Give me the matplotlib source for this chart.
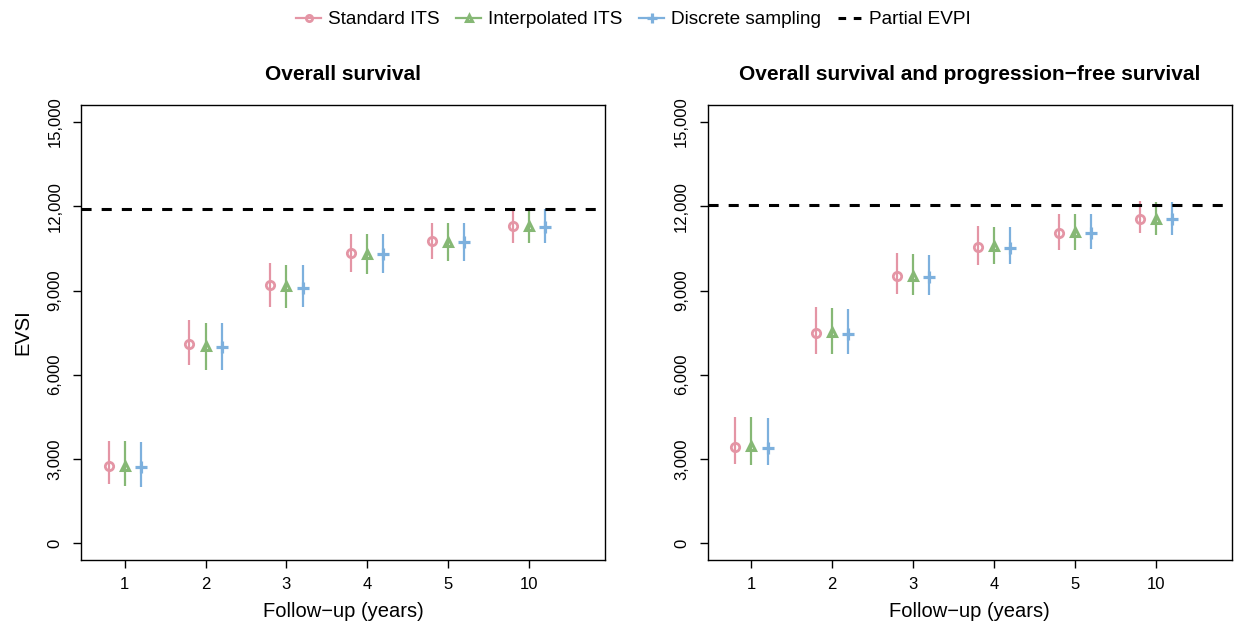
import numpy as np
import matplotlib
matplotlib.use("Agg")
from matplotlib import pyplot as plt
from matplotlib.lines import Line2D

plt.rcParams['font.family'] = ['Liberation Sans', 'DejaVu Sans']

# follow-up categories
years = ['1', '2', '3', '4', '5', '10']

# overall survival panel
std_os = [2750, 7090, 9205, 10330, 10760, 11305]
std_os_lo = [2090, 6360, 8430, 9660, 10110, 10690]
std_os_hi = [3640, 7940, 9990, 11020, 11420, 11950]
int_os = [2740, 7030, 9145, 10310, 10735, 11295]
int_os_lo = [2040, 6180, 8370, 9590, 10050, 10690]
int_os_hi = [3630, 7850, 9900, 11020, 11420, 11880]
dis_os = [2695, 6975, 9100, 10285, 10725, 11270]
dis_os_lo = [2000, 6160, 8410, 9620, 10050, 10680]
dis_os_hi = [3620, 7830, 9900, 11010, 11420, 11900]
evpi_os = 11890

# overall + progression-free survival panel
std_pfs = [3415, 7475, 9505, 10540, 11050, 11560]
std_pfs_lo = [2820, 6750, 8880, 9900, 10445, 11050]
std_pfs_hi = [4495, 8400, 10325, 11285, 11730, 12200]
int_pfs = [3450, 7510, 9530, 10575, 11085, 11560]
int_pfs_lo = [2795, 6750, 8845, 9960, 10430, 10990]
int_pfs_hi = [4480, 8365, 10290, 11265, 11730, 12165]
dis_pfs = [3390, 7465, 9485, 10530, 11040, 11535]
dis_pfs_lo = [2770, 6740, 8855, 9935, 10465, 10990]
dis_pfs_hi = [4460, 8355, 10270, 11265, 11730, 12140]
evpi_pfs = 12060

yticks = [0, 3000, 6000, 9000, 12000, 15000]
cols = ['#E495A5', '#86B875', '#7DB0DD']
names = ['Standard ITS', 'Interpolated ITS', 'Discrete sampling']
mk = [dict(marker='o', ms=6, mew=2, mfc='none'),
      dict(marker='^', ms=6, mew=2.2, mfc='none'),
      dict(marker='+', ms=9, mew=2.3)]
offs = [-0.2, 0, 0.2]


def panel(ax, title, series, evpi, ylab):
    x = np.arange(1, len(years) + 1)
    for k, (m, lo, hi) in enumerate(series):
        xx = x + offs[k]
        ax.vlines(xx, lo, hi, color=cols[k], lw=1.6)
        ax.plot(xx, m, ls='none', color=cols[k], **mk[k])
    ax.axhline(evpi, color='black', lw=2.2, ls=(0, (3.3, 3.3)))
    ax.set_xlim(0.46, 6.94)
    ax.set_ylim(-600, 15600)
    ax.set_xticks(x)
    ax.set_xticklabels(years)
    ax.set_yticks(yticks)
    ax.set_yticklabels([f'{v:,}' for v in yticks], rotation=90, va='center')
    ax.tick_params(axis='both', length=5.8, width=1, labelsize=12)
    ax.tick_params(axis='y', pad=7.5)
    ax.tick_params(axis='x', pad=6.5)
    for s in ax.spines.values():
        s.set_linewidth(1)
    ax.set_title(title, fontsize=15, fontweight='bold', pad=18)
    ax.set_xlabel('Follow\u2212up (years)', fontsize=14.5, labelpad=7)
    if ylab:
        ax.set_ylabel('EVSI', fontsize=14.5, labelpad=11)


fig = plt.figure(figsize=(12.35, 6.27), dpi=100)
ax1 = fig.add_axes([0.0656, 0.1069, 0.4243, 0.7252])
ax2 = fig.add_axes([0.5730, 0.1069, 0.4245, 0.7252])

panel(ax1, 'Overall survival',
      [(std_os, std_os_lo, std_os_hi), (int_os, int_os_lo, int_os_hi),
       (dis_os, dis_os_lo, dis_os_hi)], evpi_os, True)
panel(ax2, 'Overall survival and progression\u2212free survival',
      [(std_pfs, std_pfs_lo, std_pfs_hi), (int_pfs, int_pfs_lo, int_pfs_hi),
       (dis_pfs, dis_pfs_lo, dis_pfs_hi)], evpi_pfs, False)

handles = [Line2D([], [], color=cols[k], lw=1.6,
                  **{**mk[k], 'ms': mk[k]['ms'] * 0.75}) for k in range(3)]
handles.append(Line2D([], [], color='black', lw=2.2, ls=(0, (2.5, 2.5))))
fig.legend(handles, names + ['Partial EVPI'], loc='upper center',
           bbox_to_anchor=(0.513, 1.01), ncol=4, frameon=False,
           fontsize=13.7, handlelength=1.3, columnspacing=0.9, handletextpad=0.35)

fig.savefig('out.png', dpi=100)
